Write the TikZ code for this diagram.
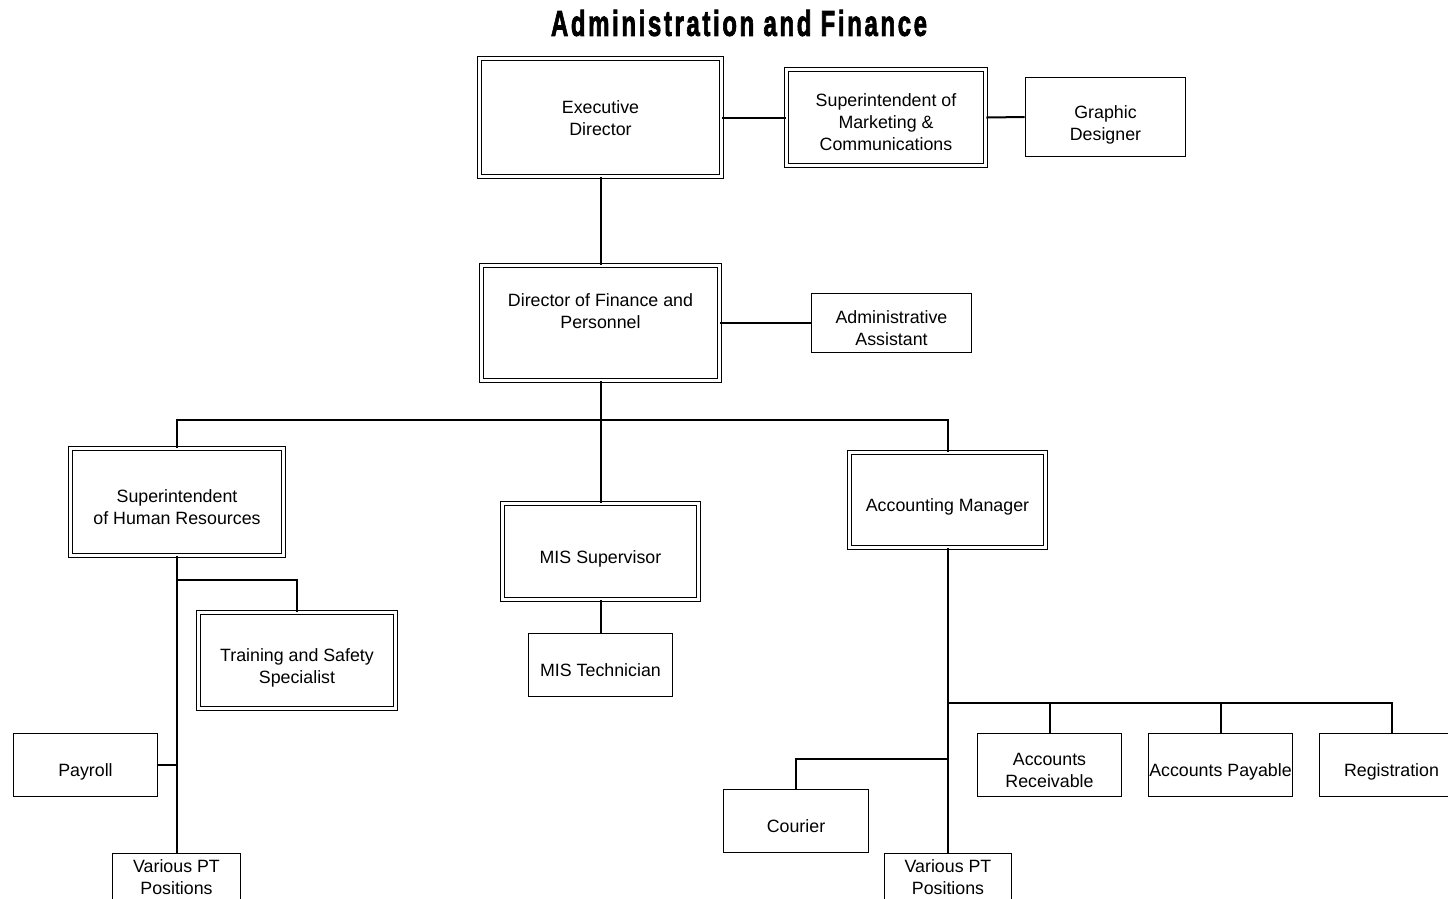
\documentclass[tikz,border=0pt]{standalone}
\usepackage{fontspec}
\setmainfont{Liberation Sans}
\newfontfamily\titlefont[LetterSpace=11,FakeBold=2.5]{Liberation Sans}
\newcommand\bx[2][-11.5pt]{\raisebox{#1}[0pt][0pt]{\begin{tabular}{@{}c@{}}#2\end{tabular}}}
\begin{document}
\begin{tikzpicture}[x=1pt,y=-1pt,
  base/.style={rectangle, inner sep=0pt, fill=white, font=\fontsize{17.8}{22}\selectfont},
  sbox/.style={base, draw, line width=1.8pt},
  dbox/.style={base, draw, line width=1.6pt, double, double distance=2.2pt},
  conn/.style={line width=2pt}]
\clip (0,0) rectangle (1448,898);
\fill[white] (0,0) rectangle (1448,898);

\node[font=\titlefont\bfseries] (title) at (739,23) {\resizebox{376pt}{26pt}{Administration and Finance}};

% double boxes
\node[dbox, minimum width=242pt, minimum height=118pt] (ed) at (600.5,117.5) {\bx[-6.5pt]{Executive\\Director}};
\node[dbox, minimum width=199pt, minimum height=96pt] (mkt) at (886,117.5) {\bx[-11pt]{Superintendent of\\Marketing \&\\Communications}};
\node[dbox, minimum width=238pt, minimum height=115pt] (df) at (600.5,323) {\bx[5.5pt]{Director of Finance and\\Personnel}};
\node[dbox, minimum width=213pt, minimum height=107pt] (hr) at (177,502) {\bx{Superintendent\\of Human Resources}};
\node[dbox, minimum width=196pt, minimum height=96pt] (mis) at (600.5,551.5) {\bx{MIS Supervisor}};
\node[dbox, minimum width=196pt, minimum height=95pt] (acc) at (947.5,500) {\bx{Accounting Manager}};
\node[dbox, minimum width=197pt, minimum height=96pt] (tss) at (297,660.5) {\bx{Training and Safety\\Specialist}};

% single boxes
\node[sbox, minimum width=160pt, minimum height=79pt] (gd) at (1105.5,117) {\bx[-12pt]{Graphic\\Designer}};
\node[sbox, minimum width=160pt, minimum height=59pt] (aa) at (891.5,323) {\bx{Administrative\\Assistant}};
\node[sbox, minimum width=144pt, minimum height=63pt] (mt) at (600.5,665) {\bx{MIS Technician}};
\node[sbox, minimum width=144pt, minimum height=63pt] (pay) at (85.5,765) {\bx{Payroll}};
\node[sbox, minimum width=128pt, minimum height=63pt] (vpl) at (176.5,885) {\bx[1.5pt]{Various PT\\Positions}};
\node[sbox, minimum width=145pt, minimum height=63pt] (cou) at (796,821) {\bx{Courier}};
\node[sbox, minimum width=127pt, minimum height=63pt] (vpr) at (948,885) {\bx[1.5pt]{Various PT\\Positions}};
\node[sbox, minimum width=144pt, minimum height=63pt] (ar) at (1049.5,765) {\bx{Accounts\\Receivable}};
\node[sbox, minimum width=144pt, minimum height=63pt] (ap) at (1220.5,765) {\bx{Accounts Payable}};
\node[sbox, minimum width=144pt, minimum height=63pt] (reg) at (1391.5,765) {\bx{Registration}};

% junctions
\coordinate (j1) at (600.5,420);
\coordinate (j2) at (177,580);
\coordinate (j3) at (947.5,703);
\coordinate (j4) at (947.5,759);

% connectors
\draw[conn] (ed.east) -- (mkt.west);
\draw[conn] (mkt.east) -- (gd.west);
\draw[conn] (ed.south) -- (df.north);
\draw[conn] (df.east) -- (aa.west);
\draw[conn] (df.south) -- (mis.north);
\draw[conn] (hr.north) |- (j1) -| (acc.north);
\draw[conn] (hr.south) -- (hr.south |- vpl.north);
\draw[conn] (j2) -| (tss.north);
\draw[conn] (pay.east) -- (pay.east -| hr.south);
\draw[conn] (mis.south) -- (mt.north);
\draw[conn] (acc.south) -- (acc.south |- vpr.north);
\draw[conn] (j3) -| (ar.north);
\draw[conn] (j3) -| (ap.north);
\draw[conn] (j3) -| (reg.north);
\draw[conn] (j4) -| (cou.north);
\end{tikzpicture}
\end{document}
